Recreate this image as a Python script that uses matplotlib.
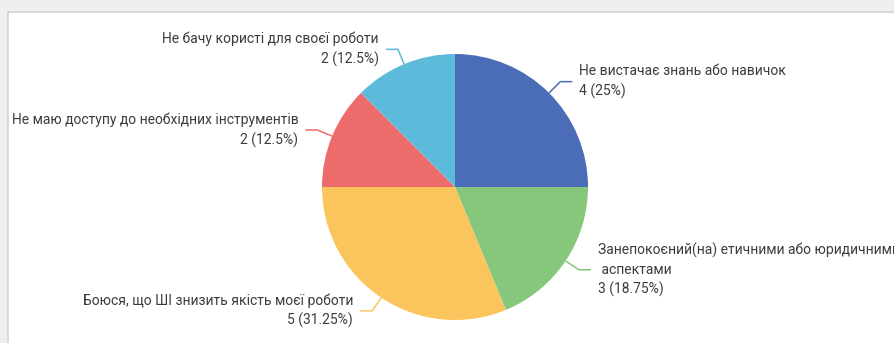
import matplotlib
matplotlib.use("Agg")
import matplotlib.pyplot as plt
from matplotlib.patches import Rectangle
import numpy as np

# Survey answers, in the order they go round the pie (clockwise from the top)
labels = [
    "Не вистачає знань або навичок",
    "Занепокоєний(на) етичними або юридичними\n аспектами",
    "Боюся, що ШІ знизить якість моєї роботи",
    "Не маю доступу до необхідних інструментів",
    "Не бачу користі для своєї роботи",
]
counts = [4, 3, 5, 2, 2]
colors = ["#4b6cb7", "#86c77c", "#f9c55c", "#ee6b6b", "#5ebadb"]

W, H = 894, 343
fig = plt.figure(figsize=(W / 100, H / 100), dpi=100, facecolor="#efefef")

# white card with a thin grey edge, kept behind the axes
card = Rectangle((8 / W, -0.01), 1.0, (H - 12) / H + 0.01, transform=fig.transFigure,
                 facecolor="white", edgecolor="#d4d4d4", linewidth=1.2, zorder=-5)
fig.patches.append(card)

ax = fig.add_axes([0, 0, 1, 1])
ax.patch.set_alpha(0)

# pie in pixel-like data units (y measured upwards)
cx, cy, r = 455, H - 187, 133
wedges, _ = ax.pie(counts, colors=colors, startangle=90, counterclock=False,
                   center=(cx, cy), radius=r, frame=True)
ax.set_xlim(0, W)
ax.set_ylim(0, H)
ax.set_aspect("auto")
ax.axis("off")

total = sum(counts)
text_color = "#3c3c3c"
for w, lab, n, col in zip(wedges, labels, counts, colors):
    mid = np.deg2rad((w.theta1 + w.theta2) / 2)
    ux, uy = np.cos(mid), np.sin(mid)
    x0, y0 = cx + r * ux, cy + r * uy
    x1, y1 = cx + (r + 16) * ux, cy + (r + 16) * uy
    side = 1 if ux >= 0 else -1
    x2 = x1 + side * 12
    ax.plot([x0, x1, x2], [y0, y1, y1], color=col, lw=1.1, solid_capstyle="butt")
    pct = n / total * 100
    txt = f"{lab}\n{n} ({pct:g}%)"
    ha = "left" if side > 0 else "right"
    ax.text(x2 + side * 7, y1, txt, ha=ha, va="center", multialignment=ha,
            fontsize=10, family="Roboto", color=text_color, linespacing=1.45)

fig.savefig("out.png", dpi=100, facecolor=fig.get_facecolor())
